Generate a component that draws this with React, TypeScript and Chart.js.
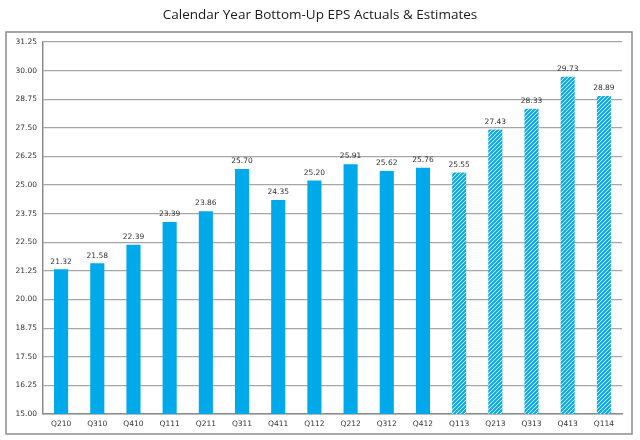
import React, { useEffect, useRef } from "react";
import { Chart, registerables } from "chart.js";
Chart.register(...registerables);

const categories = ["Q210","Q310","Q410","Q111","Q211","Q311","Q411","Q112","Q212","Q312","Q412","Q113","Q213","Q313","Q413","Q114"];
const actuals = [21.32, 21.58, 22.39, 23.39, 23.86, 25.70, 24.35, 25.20, 25.91, 25.62, 25.76];
const estimates = [25.55, 27.43, 28.33, 29.73, 28.89];
const yTicks = [15.0, 16.25, 17.5, 18.75, 20.0, 21.25, 22.5, 23.75, 25.0, 26.25, 27.5, 28.75, 30.0, 31.25];
const title = "Calendar Year Bottom-Up EPS Actuals & Estimates";

const BLUE = "#00A9EA";

function makeHatch(): CanvasPattern | string {
  const c = document.createElement("canvas");
  c.width = 4;
  c.height = 4;
  const g = c.getContext("2d");
  if (!g) return BLUE;
  g.fillStyle = "#ffffff";
  g.fillRect(0, 0, 4, 4);
  g.strokeStyle = BLUE;
  g.lineWidth = 2.1;
  g.beginPath();
  g.moveTo(-1, 5);
  g.lineTo(5, -1);
  g.moveTo(-1, 1);
  g.lineTo(1, -1);
  g.moveTo(3, 5);
  g.lineTo(5, 3);
  g.stroke();
  const p = g.createPattern(c, "repeat");
  return p || BLUE;
}

export default function App() {
  const ref = useRef<HTMLCanvasElement | null>(null);
  useEffect(() => {
    if (!ref.current) return;
    const actualData = categories.map((_, i) => (i < actuals.length ? actuals[i] : null));
    const estData = categories.map((_, i) => (i >= actuals.length ? estimates[i - actuals.length] : null));

    const decor = {
      id: "decor",
      beforeDraw(chart: any) {
        const ctx = chart.ctx;
        ctx.save();
        ctx.fillStyle = "#ffffff";
        ctx.fillRect(0, 0, chart.width, chart.height);
        ctx.strokeStyle = "#8c8c8c";
        ctx.lineWidth = 1.5;
        ctx.strokeRect(6, 32, 626, 402);
        ctx.fillStyle = "#1a1a1a";
        ctx.font = "13.5px 'Open Sans'";
        ctx.textAlign = "center";
        ctx.textBaseline = "middle";
        ctx.fillText(title, 320, 15);
        ctx.restore();
      },
      afterDatasetsDraw(chart: any) {
        const ctx = chart.ctx;
        ctx.save();
        ctx.fillStyle = "#333333";
        ctx.font = "7.5px 'DejaVu Sans'";
        ctx.textAlign = "center";
        ctx.textBaseline = "bottom";
        chart.data.datasets.forEach((ds: any, di: number) => {
          const meta = chart.getDatasetMeta(di);
          meta.data.forEach((el: any, i: number) => {
            const v = ds.data[i];
            if (v === null || v === undefined) return;
            ctx.fillText(Number(v).toFixed(2), el.x, el.y - 4);
          });
        });
        ctx.restore();
      },
    };

    const chart = new Chart(ref.current, {
      type: "bar",
      data: {
        labels: categories,
        datasets: [
          { label: "Actuals", data: actualData, backgroundColor: BLUE, grouped: false, barPercentage: 0.39, categoryPercentage: 1 } as any,
          { label: "Estimates", data: estData, backgroundColor: makeHatch() as any, grouped: false, barPercentage: 0.39, categoryPercentage: 1 } as any,
        ],
      },
      options: {
        animation: false,
        responsive: false,
        devicePixelRatio: 1,
        layout: { padding: { left: 0, right: 18, top: 42, bottom: 0 } },
        plugins: { legend: { display: false }, tooltip: { enabled: false }, title: { display: false } },
        scales: {
          x: {
            grid: { display: false, drawTicks: false },
            border: { display: true, color: "#8c8c8c", width: 1.5 },
            ticks: { color: "#333333", font: { family: "DejaVu Sans", size: 7.5 }, padding: 6, maxRotation: 0, autoSkip: false },
            afterFit: (s: any) => { s.height = 26; },
          },
          y: {
            min: 15,
            max: 31.25,
            afterBuildTicks: (s: any) => { s.ticks = yTicks.map((v) => ({ value: v })); },
            grid: { color: "#a6a6a6", lineWidth: 1.2, drawTicks: false },
            border: { display: true, color: "#8c8c8c", width: 1.5 },
            ticks: {
              color: "#333333",
              font: { family: "DejaVu Sans", size: 7.5 },
              padding: 6,
              callback: (v: any) => Number(v).toFixed(2),
            },
            afterFit: (s: any) => { s.width = 43; },
          },
        },
      },
      plugins: [decor],
    });
    return () => chart.destroy();
  }, []);
  return (
    <div style={{ position: "fixed", left: 0, top: 0, width: 640, height: 440, background: "#fff" }}>
      <canvas ref={ref} width={640} height={440} style={{ width: 640, height: 440, display: "block" }} />
    </div>
  );
}
